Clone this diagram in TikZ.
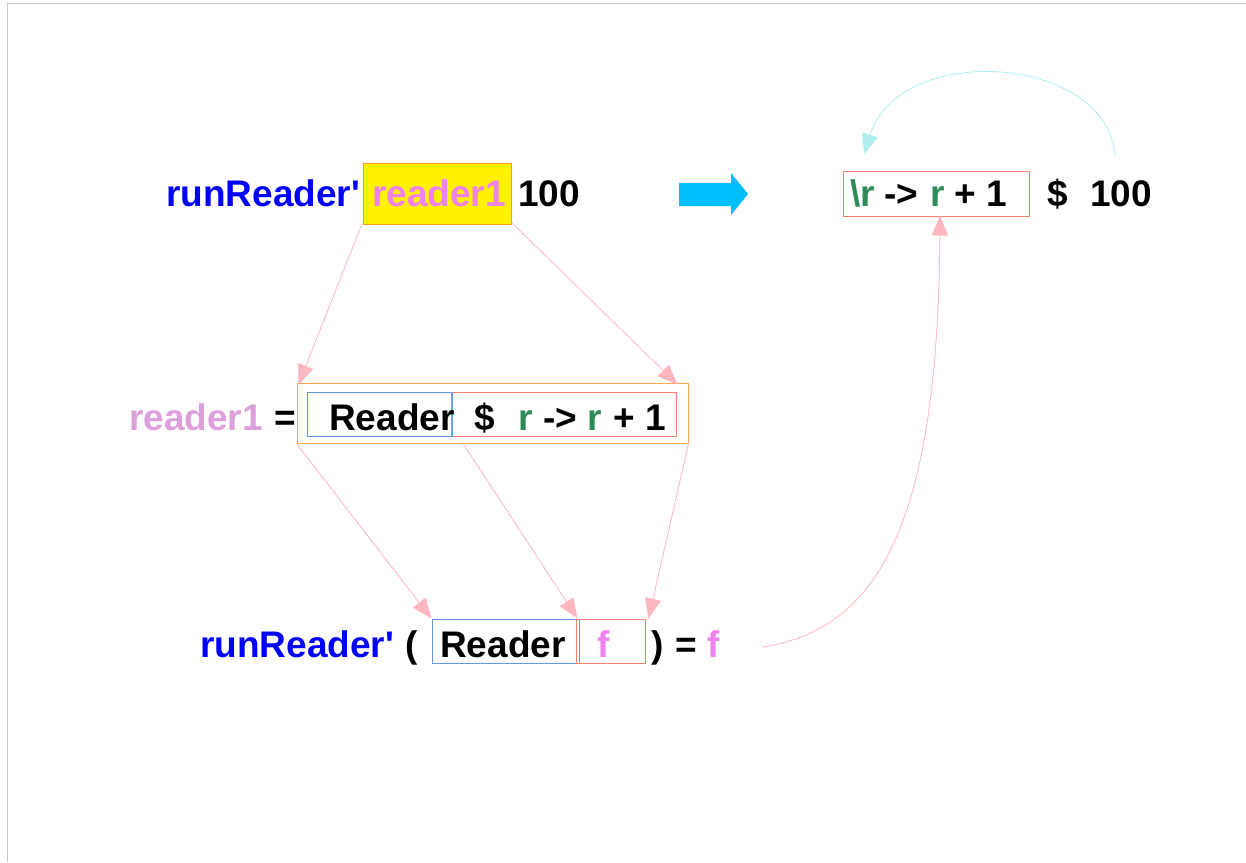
\documentclass[tikz,border=0pt]{standalone}
\usepackage{fontspec}
\setmainfont{Liberation Sans}
\usetikzlibrary{arrows.meta}
\definecolor{rblue}{HTML}{0000FF}
\definecolor{rviolet}{HTML}{EE82EE}
\definecolor{rplum}{HTML}{DDA0DD}
\definecolor{rgreen}{HTML}{2E8B57}
\definecolor{rpink}{HTML}{FFB6C1}
\definecolor{rcyan}{HTML}{AFEEEE}
\definecolor{rsky}{HTML}{00BFFF}
\definecolor{rorange}{HTML}{FF9A1F}
\definecolor{rlorange}{HTML}{FFA54F}
\definecolor{rcorn}{HTML}{6495ED}
\definecolor{rsalmon}{HTML}{FA8072}
\definecolor{rframe}{HTML}{C8C8C8}
\tikzset{
  txt/.style={anchor=base west,inner sep=0pt,font=\fontsize{37}{40}\selectfont\bfseries},
  box/.style={draw,rectangle,inner sep=0pt,line width=1pt},
  conn/.style={draw=rpink,line width=0.8pt,-{Triangle[length=20pt,width=16pt]}},
  loop/.style={draw=rcyan,line width=0.8pt,-{Triangle[length=20pt,width=16pt]}}
}
\begin{document}
\begin{tikzpicture}[x=1pt,y=-1pt]
\useasboundingbox (0,0) rectangle (1246,862);
\fill[white] (0,0) rectangle (1246,862);
\draw[rframe,line width=1pt] (7,862) -- (7,3.5) -- (1246,3.5);
% row 1
\node[box,draw=rorange,fill=yellow,minimum width=148pt,minimum height=61pt] (yb) at (437,193.5) {};
\node[txt,text=rblue] (rr1) at (166,206) {runReader\textquotesingle};
\node[txt,text=rviolet] (r1) at (372,206) {reader1};
\node[txt] (n1) at (518,206) {100};
% blue arrow
\fill[rsky] (679,183) -- (731,183) -- (731,173) -- (748,194) -- (731,215) -- (731,206) -- (679,206) -- cycle;
% right box
\node[box,draw=rsalmon,minimum width=186pt,minimum height=45pt] (rt) at (936,193.5) {};
\node[txt,text=rgreen] (lam) at (850,206) {\textbackslash r};
\node[txt] (ar1) at (884,206) {->};
\node[txt,text=rgreen] (rv1) at (930,206) {r};
\node[txt] (p1) at (954,206) {+ 1};
\node[txt] (d1) at (1047,206) {\$};
\node[txt] (n2) at (1090,206) {100};
% row 2
\node[box,draw=rlorange,minimum width=391pt,minimum height=60pt] (ob) at (492.5,413) {};
\node[box,draw=rcorn,minimum width=145pt,minimum height=44pt] (bb2) at (379.5,414) {};
\node[box,draw=rsalmon,minimum width=225pt,minimum height=44pt] (rb2) at (563.5,414) {};
\node[txt,text=rplum] (r2) at (129,430) {reader1};
\node[txt] (eq2) at (274,430) {=};
\node[txt] (rd2) at (329,430) {Reader};
\node[txt] (d2) at (474,430) {\$};
\node[txt,text=rgreen] (rv2) at (518,430) {r};
\node[txt] (ar2) at (543,430) {->};
\node[txt,text=rgreen] (rv3) at (587,430) {r};
\node[txt] (p2) at (613,430) {+ 1};
% row 3
\node[box,draw=rcorn,minimum width=147pt,minimum height=44pt] (bb3) at (505.5,641) {};
\node[box,draw=rsalmon,minimum width=69pt,minimum height=44pt] (rb3) at (610.5,641) {};
\node[txt,text=rblue] (rr3) at (200,657) {runReader\textquotesingle};
\node[txt] (lp) at (405,657) {(};
\node[txt] (rd3) at (440,657) {Reader};
\node[txt,text=rviolet] (f1) at (597,657) {f};
\node[txt] (rp) at (651,657) {)};
\node[txt] (eq3) at (675,657) {=};
\node[txt,text=rviolet] (f2) at (707,657) {f};
% connectors
\coordinate (c6s) at (762,647);
\coordinate (cls) at (1115,157);
\coordinate (cle) at (864,154);
\draw[conn] ([yshift=2pt]yb.south west) -- ([xshift=2pt,yshift=-2pt]ob.north west);
\draw[conn] ([yshift=2pt]yb.south east) -- ([xshift=-11pt,yshift=-2pt]ob.north east);
\draw[conn] (ob.south west) -- (bb3.north west);
\draw[conn] ([xshift=-29.5pt]ob.south) -- ([xshift=2pt]rb3.north west);
\draw[conn] (ob.south east) -- ([xshift=3pt]rb3.north east);
\draw[conn] (c6s) .. controls (880,630) and (938,520) .. ([xshift=4pt,yshift=1pt]rt.south);
\draw[loop] (cls) .. controls (1110,55) and (900,40) .. (cle);
\end{tikzpicture}
\end{document}
